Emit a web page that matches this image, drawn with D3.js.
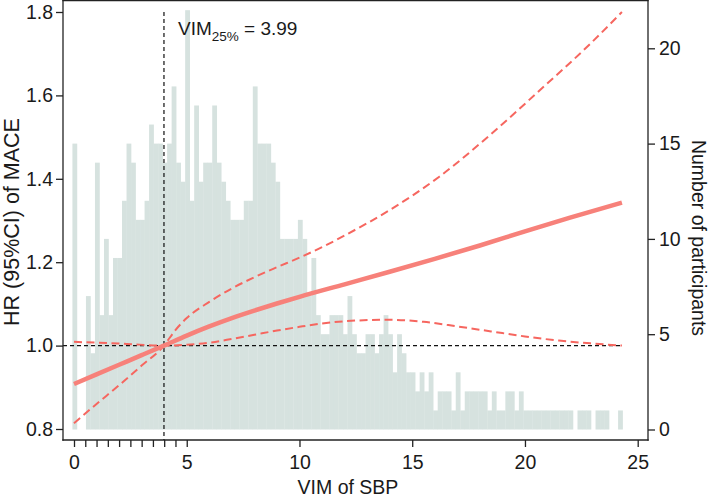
<!DOCTYPE html>
<html><head><meta charset="utf-8">
<script src="https://cdn.jsdelivr.net/npm/d3@7"></script>
<style>body{margin:0;background:#fff}svg text{font-family:"Liberation Sans",Arial,Helvetica,sans-serif;fill:#1a1a1a}</style>
</head><body><svg id="chart" width="709" height="497"></svg>
<script>
// ---- data ----
const binStart = -0.07, binWidth = 0.2;
const binCounts = [15,0,0,7,4,14,6,10,6,9,9,12,15,14,11,11,12,16,15,15,
  14,15,18,14,13,22,12,17,13,14,14,17,14,13,12,11,11,11,12,12,
  18,15,15,15,14,13,10,10,10,10,11,10,7,9,6,5,5,6,6,6,
  5,7,5,4,4,5,5,4,5,6,5,3,5,4,3,3,2,3,2,3,
  1,2,2,2,1,3,1,2,2,2,2,2,1,2,1,1,2,2,1,2,
  1,1,1,1,1,1,1,1,1,1,1,0,1,1,1,0,1,1,1,0,
  0,1];
const estX  = [0,1,2,3,3.99,5,6,7,8,9,10,12,14,16,18,20,22,24.3];
const estHR = [0.908,0.931,0.954,0.977,1.0,1.024,1.046,1.066,1.084,1.101,1.117,1.147,1.177,1.208,1.24,1.274,1.307,1.343];
const upX  = [0,1,2,3,3.99,4.48,5,6,7,8,9,10,11,12,14,16.2,18.45,20.67,22.9,24.3];
const upHR = [0.814,0.86,0.905,0.952,1.0,1.036,1.066,1.105,1.137,1.164,1.188,1.211,1.236,1.264,1.325,1.405,1.505,1.613,1.724,1.80];
const loX  = [0,1,2.34,3.99,5,6,7,8,9,10,11,12.5,14,15.5,17,18.5,20,21.5,23,24.3];
const loHR = [1.009,1.007,1.004,1.0,1.002,1.007,1.016,1.026,1.036,1.045,1.053,1.06,1.062,1.057,1.046,1.034,1.022,1.012,1.005,1.0];
const xTicks = [0,5,10,15,20,25];
const xMinorTicks = [0.5,1,1.5,2,2.5,3,3.5,4,4.5];
const hrTicks = [0.8,1.0,1.2,1.4,1.6,1.8];
const countTicks = [0,5,10,15,20];
const vim25 = 3.99;
const refHR = 1.0;

// ---- layout ----
const svg = d3.select("#chart");
const frame = {left:63, right:648, top:0.5, bottom:440};
const x = d3.scaleLinear().domain([0,25]).range([74,637.7]);
const yHR = d3.scaleLinear().domain([0.8,1.8]).range([429,12]);
const yN = d3.scaleLinear().domain([0,20]).range([429.5,48.3]);

// histogram
svg.append("g").selectAll("rect").data(binCounts).join("rect")
  .attr("x",(d,i)=>x(binStart+i*binWidth))
  .attr("width",(d,i)=>x(binStart+(i+1)*binWidth)-x(binStart+i*binWidth)+0.3)
  .attr("y",d=>yN(d)).attr("height",d=>yN(0)-yN(d))
  .attr("fill","#d6e2df");

// reference lines
svg.append("line").attr("x1",frame.left).attr("x2",x(24.3))
  .attr("y1",yHR(refHR)).attr("y2",yHR(refHR))
  .attr("stroke","#111").attr("stroke-width",1.2).attr("stroke-dasharray","4,3");
svg.append("line").attr("x1",x(vim25)).attr("x2",x(vim25))
  .attr("y1",yHR(1.8)).attr("y2",frame.bottom)
  .attr("stroke","#111").attr("stroke-width",1.2).attr("stroke-dasharray","4,3");

// curves
const line = (xs,ys)=>d3.line().x((d,i)=>x(xs[i])).y((d,i)=>yHR(ys[i])).curve(d3.curveMonotoneX)(xs);
svg.append("path").attr("d",line(upX,upHR)).attr("fill","none")
  .attr("stroke","#f6665f").attr("stroke-width",2).attr("stroke-dasharray","8,4.5");
svg.append("path").attr("d",line(loX,loHR)).attr("fill","none")
  .attr("stroke","#f6665f").attr("stroke-width",2).attr("stroke-dasharray","8,4.5");
svg.append("path").attr("d",line(estX,estHR)).attr("fill","none")
  .attr("stroke","#f7817a").attr("stroke-width",4.5).attr("stroke-linecap","butt");

// axes
const fmt1 = d3.format(".1f");
const axL = svg.append("g").attr("transform",`translate(${frame.left},0)`)
  .call(d3.axisLeft(yHR).tickValues(hrTicks).tickFormat(fmt1).tickSize(7).tickPadding(3));
const axR = svg.append("g").attr("transform",`translate(${frame.right},0)`)
  .call(d3.axisRight(yN).tickValues(countTicks).tickSize(7).tickPadding(4));
const axB = svg.append("g").attr("transform",`translate(0,${frame.bottom})`)
  .call(d3.axisBottom(x).tickValues(xTicks).tickSize(7).tickPadding(8));
svg.append("g").attr("transform",`translate(0,${frame.bottom})`)
  .call(d3.axisBottom(x).tickValues(xMinorTicks).tickSize(7).tickFormat(""))
  .call(g=>g.select(".domain").remove());
[axL,axR,axB].forEach(g=>{
  g.select(".domain").remove();
  g.selectAll("text").style("font-size","19.5px").attr("fill","#1a1a1a");
});
svg.selectAll(".tick line").attr("stroke","#222").attr("stroke-width",1.3);
// frame lines
const frameLines = [
  [frame.left,frame.top,frame.right,frame.top],
  [frame.left,frame.top,frame.left,frame.bottom],
  [frame.right,frame.top,frame.right,frame.bottom],
  [frame.left,frame.bottom,frame.right,frame.bottom]];
svg.append("g").selectAll("line").data(frameLines).join("line")
  .attr("x1",d=>d[0]).attr("y1",d=>d[1]).attr("x2",d=>d[2]).attr("y2",d=>d[3])
  .attr("stroke","#222").attr("stroke-width",1.3).attr("stroke-linecap","square");

// titles
svg.append("text").attr("transform","translate(19,222) rotate(-90)").attr("text-anchor","middle")
  .style("font-size","21.5px").text("HR (95%CI) of MACE");
svg.append("text").attr("transform","translate(692,238) rotate(90)").attr("text-anchor","middle")
  .style("font-size","19.5px").text("Number of participants");
svg.append("text").attr("x",348).attr("y",494).attr("text-anchor","middle")
  .style("font-size","19.5px").text("VIM of SBP");

// annotation
const ann = svg.append("text").attr("x",x(vim25)+14).attr("y",35).style("font-size","19px");
ann.append("tspan").text("VIM");
ann.append("tspan").attr("dy",6).style("font-size","13.5px").text("25%");
ann.append("tspan").attr("dy",-6).text(" = " + vim25.toFixed(2));
</script></body></html>
